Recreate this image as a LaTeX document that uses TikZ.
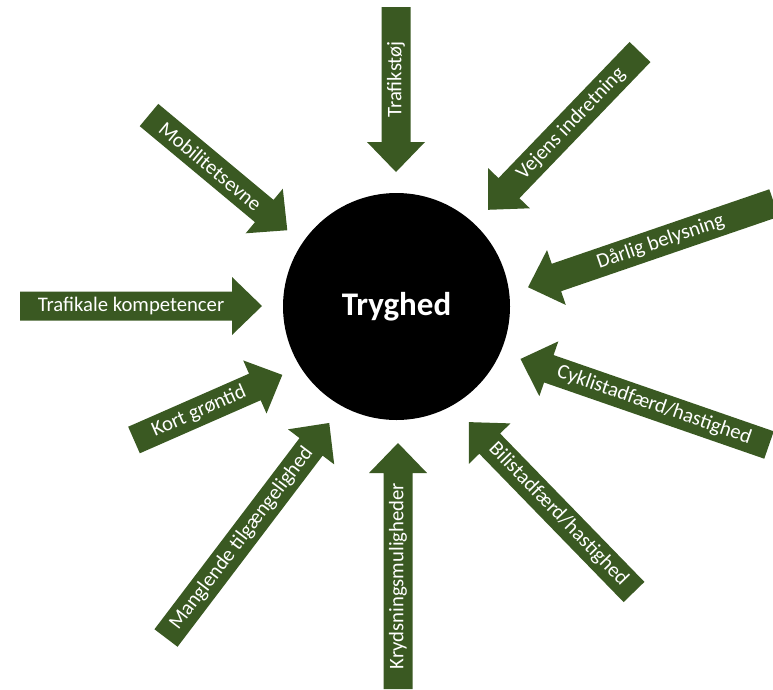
\documentclass[tikz,border=0pt]{standalone}
\usepackage{fontspec}
\setmainfont{Carlito}
\usepackage{tikz}
\definecolor{pilgroen}{RGB}{58,89,34}
\tikzset{
	pil/.style={fill=pilgroen},
	piltekst/.style={text=white, inner sep=0pt, font=\fontsize{20.7}{24}\selectfont},
	midte/.style={circle, fill=black, text=white, inner sep=0pt, minimum size=227pt, font=\bfseries\fontsize{33}{40}\selectfont},
}
% #1 navn, #2 hale, #3 vinkel, #4 laengde, #5 tekstvinkel, #6 tekst
\newcommand{\pil}[6]{%
	\begin{scope}[shift={(#2)}, rotate=#3]
	\fill[pil] (0,-14.5) -- ({#4-30},-14.5) -- ({#4-30},-29) -- (#4,0) -- ({#4-30},29) -- ({#4-30},14.5) -- (0,14.5) -- cycle;
	\node[piltekst, rotate=#5] (#1) at ({(#4-30)/2+5},0) {#6};
	\end{scope}}

\begin{document}
\begin{tikzpicture}[x=1pt, y=-1pt]
\useasboundingbox (0,0) rectangle (773,689);
\clip (0,0) rectangle (773,689);
\node[midte] (tryghed) at (396.5,306.5) {Tryghed};
\pil{trafikstoej}{396,7}{-90}{165}{90}{Trafikstøj}
\pil{vejens}{640,52}{-133.9}{219}{46.1}{Vejens indretning}
\pil{belysning}{774,203}{-161.1}{260}{18.9}{Dårlig belysning}
\pil{cyklist}{769,445}{160.9}{263}{-19.1}{Cyklistadfærd/hastighed}
\pil{bilist}{634,592}{134.2}{237}{-45.8}{Bilistadfærd/hastighed}
\pil{krydsning}{398,689}{90}{246}{90}{Krydsningsmuligheder}
\pil{tilgaengelighed}{166,638}{52.8}{270}{52.8}{Manglende tilgængelighed}
\pil{groentid}{134,440}{23.7}{162}{23.7}{Kort grøntid}
\pil{kompetencer}{20,306}{0}{242}{0}{Trafikale kompetencer}
\pil{mobilitet}{149,115}{-39.8}{180}{-39.8}{Mobilitetsevne}
\end{tikzpicture}
\end{document}
